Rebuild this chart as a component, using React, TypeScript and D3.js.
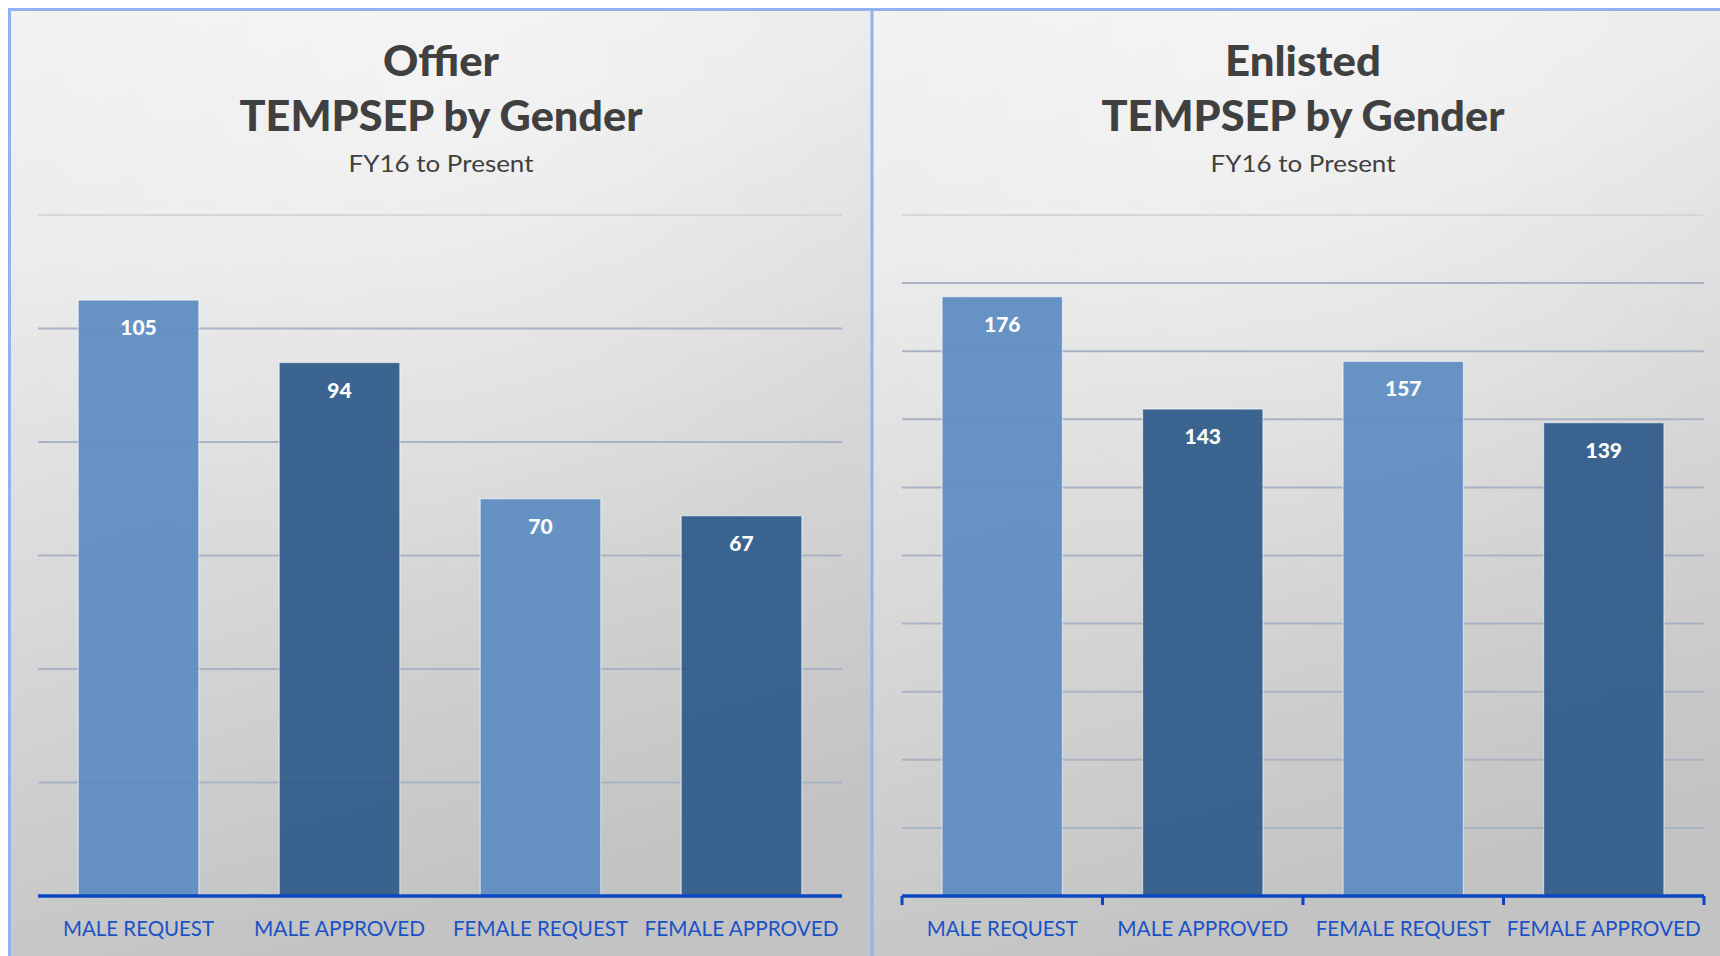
import React from "react";
import * as d3 from "d3";

const categories = ["MALE REQUEST", "MALE APPROVED", "FEMALE REQUEST", "FEMALE APPROVED"];
const officerValues = [105, 94, 70, 67];
const enlistedValues = [176, 143, 157, 139];
const officerTicks = [0, 20, 40, 60, 80, 100, 120];
const enlistedTicks = [0, 20, 40, 60, 80, 100, 120, 140, 160, 180, 200];
const barColors = ["#608dc2", "#315d8c", "#608dc2", "#315d8c"];

const W = 1720;
const H = 956;

type PanelProps = {
  id: string;
  x0: number;
  x1: number;
  plotX0: number;
  plotX1: number;
  titleX: number;
  title1: string;
  title1Len: number;
  values: number[];
  ticks: number[];
  showTicks: boolean;
};

const labelLens = [151, 171, 175, 194];

function Panel(p: PanelProps) {
  const y0 = 215;
  const yBase = 896;
  const y = d3.scaleLinear().domain([0, d3.max(p.ticks)!]).range([yBase, y0]);
  const x = d3.scaleBand<string>().domain(categories).range([p.plotX0, p.plotX1]).padding(0);
  const bw = x.bandwidth() * 0.6;
  const maxTick = d3.max(p.ticks)!;
  const font = "Lato, 'Open Sans', sans-serif";
  return (
    <g>
      <defs>
        <linearGradient id={`bg-${p.id}`} x1="0" y1="0" x2="0.25" y2="1">
          <stop offset="0" stopColor="#f1f1f1" />
          <stop offset="0.25" stopColor="#ebebeb" />
          <stop offset="1" stopColor="#c3c3c3" />
        </linearGradient>
        <radialGradient id={`hl-${p.id}`} cx="0.5" cy="0.05" r="0.6">
          <stop offset="0" stopColor="#ffffff" stopOpacity="0.35" />
          <stop offset="1" stopColor="#ffffff" stopOpacity="0" />
        </radialGradient>
      </defs>
      <rect x={p.x0} y={9} width={p.x1 - p.x0} height={H} fill={`url(#bg-${p.id})`} />
      <rect x={p.x0} y={9} width={p.x1 - p.x0} height={H} fill={`url(#hl-${p.id})`} />
      <text x={p.titleX} y={76} textAnchor="middle" fontFamily={font} fontWeight={900} fontSize={42} fill="#404040" textLength={p.title1Len} lengthAdjust="spacingAndGlyphs">{p.title1}</text>
      <text x={p.titleX} y={131} textAnchor="middle" fontFamily={font} fontWeight={900} fontSize={42} fill="#404040" textLength={403} lengthAdjust="spacingAndGlyphs">TEMPSEP by Gender</text>
      <text x={p.titleX} y={172} textAnchor="middle" fontFamily={font} fontWeight={400} fontSize={24} fill="#404040" textLength={185} lengthAdjust="spacingAndGlyphs">FY16 to Present</text>
      {p.ticks.filter((t) => t > 0).map((t) => (
        <line key={t} x1={p.plotX0} x2={p.plotX1} y1={y(t)} y2={y(t)} stroke={t === maxTick ? "#d6d6d6" : "#aab3c3"} strokeWidth={2} />
      ))}
      {p.values.map((v, i) => (
        <g key={categories[i]}>
          <rect
            x={x(categories[i])! + (x.bandwidth() - bw) / 2}
            y={y(v)}
            width={bw}
            height={yBase - y(v)}
            fill={barColors[i]}
            fillOpacity={0.95}
            stroke="#ffffff"
            strokeOpacity={0.55}
            strokeWidth={1.2}
          />
          <text
            x={x(categories[i])! + x.bandwidth() / 2}
            y={y(v) + 35}
            textAnchor="middle"
            fontFamily={font}
            fontWeight={900}
            fontSize={21}
            fill="#ffffff"
          >
            {v}
          </text>
        </g>
      ))}
      <line x1={p.plotX0} x2={p.plotX1} y1={yBase} y2={yBase} stroke="#0b47c4" strokeWidth={3.5} />
      {p.showTicks &&
        [...categories.map((c) => x(c)!), p.plotX1].map((tx, i) => (
          <line key={i} x1={tx} x2={tx} y1={yBase} y2={yBase + 9} stroke="#0b47c4" strokeWidth={3} />
        ))}
      {categories.map((c, i) => (
        <text
          key={c}
          x={x(c)! + x.bandwidth() / 2}
          y={936}
          textAnchor="middle"
          fontFamily={font}
          fontSize={21}
          fill="#1b52c6"
          textLength={labelLens[i]}
          lengthAdjust="spacingAndGlyphs"
        >
          {c}
        </text>
      ))}
    </g>
  );
}

export default function App() {
  return (
    <svg
      width={W}
      height={H}
      viewBox={`0 0 ${W} ${H}`}
      style={{ position: "absolute", left: 0, top: 0, display: "block" }}
    >
      <rect x={0} y={0} width={W} height={H} fill="#ffffff" />
      <Panel id="off" x0={9} x1={872} plotX0={38} plotX1={842} titleX={441} title1="Offier" title1Len={116} values={officerValues} ticks={officerTicks} showTicks={false} />
      <Panel id="enl" x0={872} x1={W} plotX0={902} plotX1={1704} titleX={1303} title1="Enlisted" title1Len={156} values={enlistedValues} ticks={enlistedTicks} showTicks={true} />
      <line x1={9.5} x2={9.5} y1={9} y2={H} stroke="#93b1ef" strokeWidth={3} />
      <line x1={872} x2={872} y1={9} y2={H} stroke="#93b1ef" strokeWidth={3} />
      <line x1={8} x2={W} y1={9.5} y2={9.5} stroke="#93b1ef" strokeWidth={3} />
    </svg>
  );
}
